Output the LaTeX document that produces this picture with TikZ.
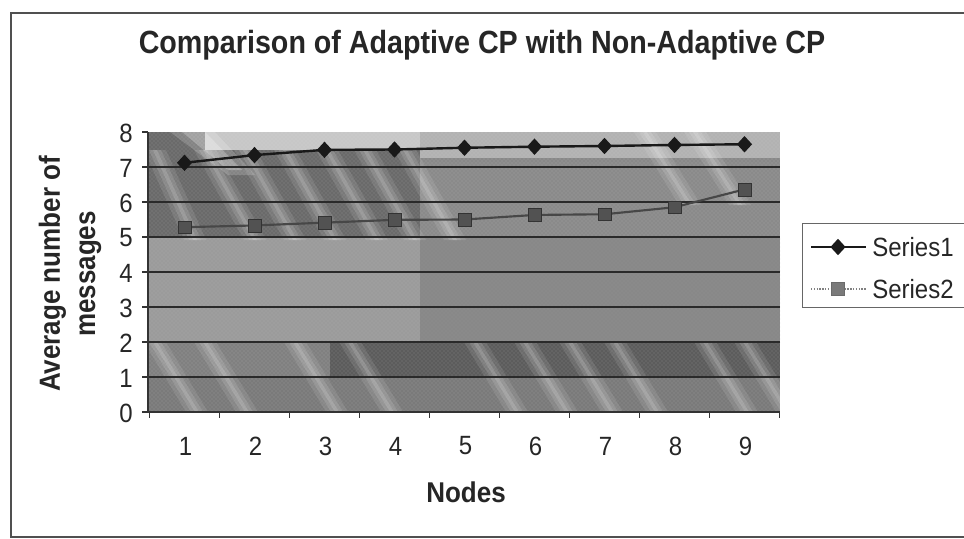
\documentclass[tikz,border=0pt]{standalone}
\usepackage{fontspec}
\setmainfont{Liberation Sans}
\usetikzlibrary{shapes.geometric,patterns}

\definecolor{plotmid}{HTML}{888888}
\definecolor{plotdark}{HTML}{6A6A6A}
\definecolor{gridc}{HTML}{2A2A2A}
\definecolor{framec}{HTML}{505050}

\tikzset{
  frameline/.style={draw=framec, line width=1.1pt},
  gridline/.style={draw=gridc, line width=0.8pt},
  axisline/.style={draw=black!80, line width=0.8pt},
  ticklbl/.style={font=\fontsize{18}{20}\selectfont, text=black!85},
  axtitle/.style={font=\bfseries\fontsize{19.5}{22}\selectfont, text=black!85},
  seriesA/.style={draw=black!90, line width=1.8pt},
  seriesB/.style={draw=black!72, line width=1.6pt},
  dia/.style={diamond, fill=black!90, inner sep=0pt, minimum width=11.5pt, minimum height=12.5pt},
  sqr/.style={rectangle, fill=black!68, draw=black!80, line width=0.3pt, inner sep=0pt, minimum size=9.5pt},
  grain/.style={pattern=crosshatch dots, pattern color=white, opacity=0.22},
  grainD/.style={pattern=crosshatch dots, pattern color=black, opacity=0.18},
}
% soft diagonal light streak: three stacked bands of rising opacity
\newcommand{\softstreak}[4]{% x at top, top y, bottom y, horizontal run
  \fill[white, opacity=0.10] (#1-6,#2) -- (#1+16,#2) -- (#1+16+#4,#3) -- (#1-6+#4,#3) -- cycle;
  \fill[white, opacity=0.12] (#1-1,#2) -- (#1+11,#2) -- (#1+11+#4,#3) -- (#1-1+#4,#3) -- cycle;
  \fill[white, opacity=0.14] (#1+3,#2) -- (#1+7,#2) -- (#1+7+#4,#3) -- (#1+3+#4,#3) -- cycle;
}

\begin{document}
\begin{tikzpicture}[x=0.75pt, y=-0.75pt]
\useasboundingbox (0,0) rectangle (964,539);

% outer chart frame (right side runs off the page)
\coordinate (ftl) at (11,13);
\coordinate (fbl) at (11,537);
\coordinate (ftr) at (975,13);
\coordinate (fbr) at (975,537);
\draw[frameline] (ftr) -- (ftl) -- (fbl) -- (fbr);

% title
\node[font=\bfseries\fontsize{21.5}{24}\selectfont, text=black!85] (title) at (482,45)
  {\scalebox{1}[1.12]{Comparison of Adaptive CP with Non-Adaptive CP}};

% plot area background
\coordinate (pbl) at (148,412);
\coordinate (ptr) at (780,132);
\begin{scope}
  \clip (148,132) rectangle (780,412);
  \fill[plotmid] (148,132) rectangle (780,412);
  % darker upper-left block
  \fill[plotdark] (148,132) rectangle (420,240);
  % lighter strip along the top
  \fill[black!22] (205,132) rectangle (420,150);
  \fill[black!30] (420,132) rectangle (780,158);
  % middle bands
  \fill[black!38] (148,237) rectangle (420,342);
  \fill[black!46] (420,162) rectangle (780,342);
  % band between 1 and 2
  \fill[black!50] (148,342) rectangle (330,377);
  \fill[black!64] (330,342) rectangle (780,377);
  % band between 0 and 1
  \fill[black!52] (148,377) rectangle (780,412);
  % grain
  \fill[grain] (148,132) rectangle (780,412);
  \fill[grainD] (148,237) rectangle (780,342);
  % diagonal light streaks
  \fill[white, opacity=0.18] (170,132) -- (215,132) -- (255,175) -- (228,175) -- cycle;
  \fill[white, opacity=0.25] (182,132) -- (205,132) -- (242,170) -- (228,170) -- cycle;
  \foreach \sx in {200,240,280,322,360,400} {
    \softstreak{\sx}{150}{240}{50}
  }
  \softstreak{150}{150}{240}{40}
  \foreach \sx in {640,690} {
    \softstreak{\sx}{132}{205}{45}
  }
  \foreach \sx in {150,200,290,345,470,520,565,610,700,740} {
    \softstreak{\sx}{342}{412}{42}
  }
\end{scope}

% horizontal gridlines
\foreach \v in {1,...,7}
  \draw[gridline] (148,{412-35*\v}) -- (780,{412-35*\v});

% value axis with ticks and labels
\draw[axisline] (148,132) -- (pbl);
\foreach \v in {0,...,8} {
  \draw[axisline] (142,{412-35*\v}) -- (148,{412-35*\v});
  \node[ticklbl, anchor=east, inner sep=0pt] (yl\v) at (133,{412-35*\v+1}) {\scalebox{1}[1.1]{\v}};
}

% category axis with ticks and labels
\draw[axisline] (pbl) -- (780,412);
\foreach \k in {0,...,9}
  \draw[axisline] ({149.5+70*\k},412) -- ({149.5+70*\k},418);
\foreach \k in {1,...,9}
  \node[ticklbl] (xl\k) at ({114.5+70*\k+1},446) {\scalebox{1}[1.1]{\k}};

% axis titles
\node[axtitle] (xtitle) at (466,492) {\scalebox{1}[1.1]{Nodes}};
\node[axtitle, rotate=90, align=center, font=\bfseries\fontsize{19.5}{26.5}\selectfont] (ytitle) at (70,274)
  {\scalebox{1}[1.12]{Average number of}\\\scalebox{1}[1.12]{messages}};

% data points
\foreach \v [count=\i] in {7.12,7.34,7.49,7.50,7.55,7.58,7.60,7.63,7.65}
  \coordinate (a\i) at ({114.5+70*\i},{412-35*\v});
\foreach \v [count=\i] in {5.28,5.33,5.41,5.49,5.50,5.63,5.65,5.85,6.36}
  \coordinate (b\i) at ({114.5+70*\i},{412-35*\v});

% series lines
\draw[seriesB] (b1) -- (b2) -- (b3) -- (b4) -- (b5) -- (b6) -- (b7) -- (b8) -- (b9);
\draw[seriesA] (a1) -- (a2) -- (a3) -- (a4) -- (a5) -- (a6) -- (a7) -- (a8) -- (a9);

% markers
\foreach \i in {1,...,9} {
  \node[sqr] (mb\i) at (b\i) {};
  \node[dia] (ma\i) at (a\i) {};
}

% legend
\coordinate (lgtl) at (802,223);
\coordinate (lgbr) at (975,307);
\draw[draw=black!60, line width=0.7pt] (975,223) -- (lgtl) |- (lgbr);
\coordinate (l1s) at (811,247);
\coordinate (l1e) at (866,247);
\coordinate (l2s) at (811,289);
\coordinate (l2e) at (866,289);
\draw[draw=black!90, line width=1.1pt] (l1s) -- (l1e);
\draw[draw=black!50, line width=1.1pt, densely dotted] (l2s) -- (l2e);
\node[dia] (lm1) at (838,247) {};
\node[sqr, fill=black!52, draw=black!58] (lm2) at (838,289) {};
\node[ticklbl, anchor=west, inner sep=0pt] (lt1) at (872,247) {\scalebox{1}[1.1]{Series1}};
\node[ticklbl, anchor=west, inner sep=0pt] (lt2) at (872,289) {\scalebox{1}[1.1]{Series2}};
\end{tikzpicture}
\end{document}
